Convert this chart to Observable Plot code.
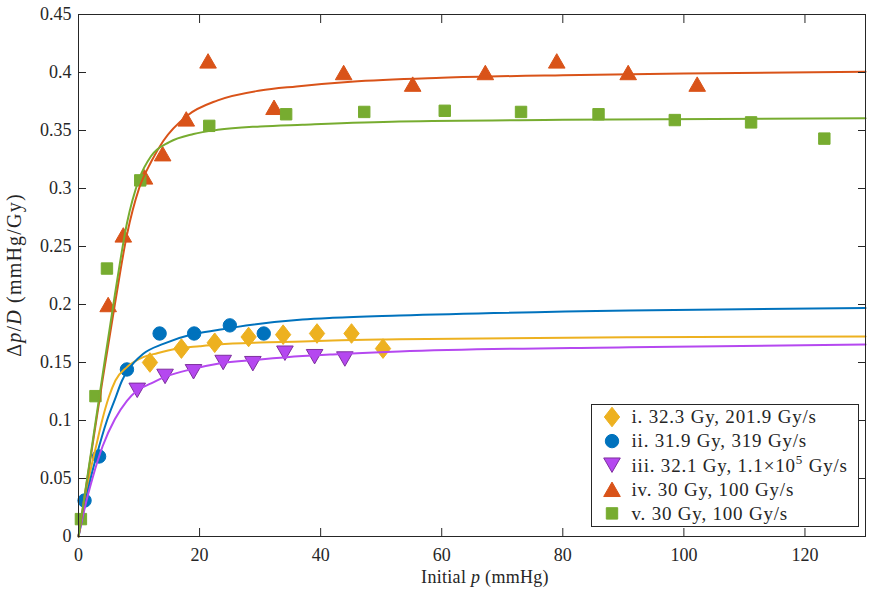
<!DOCTYPE html>
<html>
<head>
<meta charset="utf-8">
<script src="https://cdn.jsdelivr.net/npm/d3@7"></script>
<script src="https://cdn.jsdelivr.net/npm/@observablehq/plot@0.6"></script>
<style>
  body { margin: 0; background: #fff; }
  #chart { width: 877px; height: 595px; }
  svg text { font-family: "Liberation Serif", "Times New Roman", serif; }
</style>
</head>
<body>
<div id="chart"></div>
<script>
// Axis ticks and their printed labels
const xTicks = [0, 20, 40, 60, 80, 100, 120];
const xTickLabels = ["0", "20", "40", "60", "80", "100", "120"];
const yTicks = [0, 0.05, 0.1, 0.15, 0.2, 0.25, 0.3, 0.35, 0.4, 0.45];
const yTickLabels = ["0", "0.05", "0.1", "0.15", "0.2", "0.25", "0.3", "0.35", "0.4", "0.45"];

// Run names shown in the legend
const runNames = [
  "i. 32.3 Gy, 201.9 Gy/s",
  "ii. 31.9 Gy, 319 Gy/s",
  "iii. 32.1 Gy, 1.1×10^5 Gy/s",
  "iv. 30 Gy, 100 Gy/s",
  "v. 30 Gy, 100 Gy/s"
];

// Measured Δp/D against initial p (mmHg), one pair of arrays per run
const p1 = [11.8, 17.0, 22.5, 28.1, 33.8, 39.4, 45.1, 50.3];
const d1 = [0.150, 0.162, 0.167, 0.172, 0.174, 0.175, 0.175, 0.162];

const p2 = [1.0, 3.4, 8.0, 13.4, 19.1, 25.0, 30.6];
const d2 = [0.031, 0.069, 0.144, 0.175, 0.175, 0.182, 0.175];

const p3 = [9.7, 14.3, 19.0, 23.9, 28.8, 34.1, 39.0, 44.0];
const d3v = [0.126, 0.138, 0.142, 0.150, 0.149, 0.158, 0.155, 0.153];

const p4 = [4.9, 7.4, 10.9, 13.9, 17.8, 21.4, 32.3, 43.8, 55.2, 67.2, 79.0, 90.8, 102.2];
const d4 = [0.20, 0.26, 0.31, 0.33, 0.36, 0.41, 0.37, 0.40, 0.39, 0.40, 0.41, 0.40, 0.39];

const p5 = [0.4, 2.8, 4.7, 10.2, 21.6, 34.3, 47.2, 60.5, 73.1, 85.9, 98.5, 111.1, 123.2];
const d5 = [0.015, 0.121, 0.231, 0.307, 0.354, 0.364, 0.366, 0.367, 0.366, 0.364, 0.359, 0.357, 0.343];

// Fitted saturation curves, sampled along p
const fp1 = [0, 1, 1.7, 3, 3.9, 5, 6.1, 8, 10.7, 13, 16.2, 20, 23, 30, 37, 42, 53, 91, 130];
const fd1 = [0, 0.03, 0.05, 0.08, 0.1, 0.12, 0.1345, 0.146, 0.1546, 0.158, 0.1618, 0.164, 0.1655, 0.1672, 0.168, 0.169, 0.170, 0.1718, 0.1724];

const fp2 = [0, 1, 2, 3, 4.7, 6, 7.2, 8, 10.7, 14, 19, 23, 26, 37, 42, 53, 91, 130];
const fd2 = [0, 0.026, 0.05, 0.07, 0.1, 0.118, 0.1345, 0.142, 0.1575, 0.166, 0.1745, 0.178, 0.1805, 0.187, 0.1885, 0.1905, 0.1948, 0.197];

const fp3 = [0, 1, 2.3, 4, 6, 8, 9.7, 12, 14, 19, 23, 30, 37, 42, 53, 91, 130];
const fd3 = [0, 0.024, 0.05, 0.078, 0.101, 0.117, 0.1259, 0.132, 0.137, 0.1446, 0.1489, 0.1525, 0.1555, 0.157, 0.1595, 0.1632, 0.1655];

const fp4 = [0, 2, 4, 6, 8, 10, 12, 14, 18, 23, 30, 36, 45, 60, 80, 100, 130];
const fd4 = [0, 0.068, 0.136, 0.200, 0.260, 0.300, 0.323, 0.341, 0.363, 0.376, 0.3845, 0.388, 0.392, 0.3954, 0.3977, 0.3991, 0.4006];

const fp5 = [0, 2, 4, 6, 8, 10, 12, 15, 19, 23, 30, 37, 53, 80, 130];
const fd5 = [0, 0.07, 0.14, 0.208, 0.27, 0.308, 0.328, 0.340, 0.347, 0.3506, 0.3535, 0.355, 0.3578, 0.3592, 0.3606];

// Marker shapes: d3 symbol types whose extent follows r = sqrt(size / π)
const shape = (fn) => ({ draw(ctx, size) { fn(ctx, Math.sqrt(size / Math.PI)); ctx.closePath(); } });
const diamond = shape((c, r) => { const w = r * 0.78; c.moveTo(0, -r); c.lineTo(w, 0); c.lineTo(0, r); c.lineTo(-w, 0); });
const triUp = shape((c, r) => { const h = r * 0.87; c.moveTo(0, -h); c.lineTo(r, h); c.lineTo(-r, h); });
const triDown = shape((c, r) => { const h = r * 0.87; c.moveTo(0, h); c.lineTo(r, -h); c.lineTo(-r, -h); });
const square = shape((c, r) => { c.moveTo(-r, -r); c.lineTo(r, -r); c.lineTo(r, r); c.lineTo(-r, r); });
const disc = shape((c, r) => { c.moveTo(r, 0); c.arc(0, 0, r, 0, 2 * Math.PI); });

const table = (ps, ds) => ps.map((p, i) => ({ p, d: ds[i] }));

const runs = [
  { name: runNames[0], pts: table(p1, d1), fit: table(fp1, fd1), color: "#EDB120", edge: "#EDB120", symbol: diamond, r: 9.8 },
  { name: runNames[1], pts: table(p2, d2), fit: table(fp2, fd2), color: "#0072BD", edge: "#0072BD", symbol: disc, r: 6.7 },
  { name: runNames[2], pts: table(p3, d3v), fit: table(fp3, fd3), color: "#B548F0", edge: "#7E2F9E", symbol: triDown, r: 8.3 },
  { name: runNames[3], pts: table(p4, d4), fit: table(fp4, fd4), color: "#D95319", edge: "#D95319", symbol: triUp, r: 8.3 },
  { name: runNames[4], pts: table(p5, d5), fit: table(fp5, fd5), color: "#77AC30", edge: "#77AC30", symbol: square, r: 5.7 }
];

const ink = "#262626";

const chart = Plot.plot({
  width: 877,
  height: 595,
  marginLeft: 78,
  marginRight: 12,
  marginTop: 14,
  marginBottom: 59,
  style: { fontFamily: "Liberation Serif, serif", fontSize: "18px", color: ink, background: "#fff", overflow: "visible" },
  x: { domain: [0, 130] },
  y: { domain: [0, 0.45] },
  marks: [
    // measured points
    ...runs.map(s => Plot.dot(s.pts, { x: "p", y: "d", symbol: s.symbol, r: s.r, fill: s.color, stroke: s.edge, strokeWidth: 1, fillOpacity: 1 })),
    // fitted curves
    ...runs.map(s => Plot.line(s.fit, { x: "p", y: "d", stroke: s.color, strokeWidth: 2, curve: "monotone-x" })),
    Plot.frame({ stroke: ink, strokeWidth: 1 }),
    Plot.axisX(xTicks, { anchor: "bottom", tickSize: -8, tickPadding: 20, tickFormat: d => xTickLabels[xTicks.indexOf(d)], label: null }),
    Plot.axisX(xTicks, { anchor: "top", tickSize: -8, tickFormat: () => "", label: null }),
    Plot.axisY(yTicks, { anchor: "left", tickSize: -8, tickPadding: 15, tickFormat: d => yTickLabels[yTicks.indexOf(d)], label: null }),
    Plot.axisY(yTicks, { anchor: "right", tickSize: -8, tickFormat: () => "", label: null })
  ]
});

document.getElementById("chart").appendChild(chart);

const svg = d3.select(chart);

// axis titles with italic math symbols
const xt = svg.append("text").attr("x", 485).attr("y", 583).attr("text-anchor", "middle")
  .attr("font-size", 18).attr("fill", ink).attr("letter-spacing", "0.3px");
xt.append("tspan").text("Initial ");
xt.append("tspan").attr("font-style", "italic").text("p");
xt.append("tspan").text(" (mmHg)");

const yt = svg.append("text").attr("transform", "translate(21,275) rotate(-90)").attr("text-anchor", "middle")
  .attr("font-size", 20).attr("fill", ink).attr("letter-spacing", "1.2px");
yt.append("tspan").text("Δ");
yt.append("tspan").attr("font-style", "italic").text("p");
yt.append("tspan").text("/");
yt.append("tspan").attr("font-style", "italic").text("D");
yt.append("tspan").text(" (mmHg/Gy)");

// legend box in the lower right corner
const lg = svg.append("g").attr("text-anchor", "start");
lg.append("rect").attr("x", 591.5).attr("y", 404.5).attr("width", 267).attr("height", 122)
  .attr("fill", "#fff").attr("stroke", ink).attr("stroke-width", 1);
runs.forEach((s, i) => {
  const cy = 417 + i * 24.1;
  lg.append("path")
    .attr("transform", `translate(612,${cy})`)
    .attr("d", d3.symbol(s.symbol, Math.PI * s.r * s.r)())
    .attr("fill", s.color).attr("stroke", s.edge).attr("stroke-width", 1);
  const t = lg.append("text").attr("x", 631.5).attr("y", cy + 6.3).attr("text-anchor", "start")
    .attr("font-size", 19).attr("fill", ink).attr("letter-spacing", "0.8px");
  const parts = s.name.split("^");
  t.append("tspan").text(parts[0]);
  if (parts.length > 1) {
    const [sup, ...rest] = parts[1].split(" ");
    t.append("tspan").attr("font-size", 13).attr("dy", -8).text(sup);
    t.append("tspan").attr("dy", 8).text(" " + rest.join(" "));
  }
});
</script>
</body>
</html>
